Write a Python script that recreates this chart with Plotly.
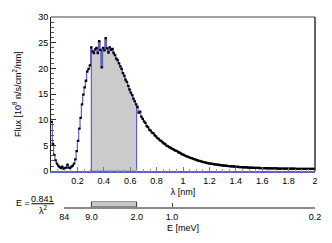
import numpy as np
import plotly.graph_objects as go

# ---- data ----
bin_width = 0.01
flux = [
    9.6, 5.3, 3.2, 2.1, 1.5, 1.1, 0.8, 0.6, 0.9, 0.5,
    0.6, 0.7, 1.3, 0.7, 0.6, 0.9, 1.1, 1.5, 2.3, 3.9,
    5.9, 8.3, 10.4, 13.0, 14.9, 16.3, 17.6, 19.4, 19.9, 20.6,
    24.1, 23.3, 23.0, 23.7, 24.0, 23.0, 25.3, 23.6, 20.2, 24.0,
    23.5, 25.9, 23.9, 23.1, 24.1, 23.6, 23.8, 23.0, 22.6, 21.9,
    21.6, 21.0, 20.4, 19.9, 19.1, 18.6, 17.8, 17.4, 16.6, 15.9,
    15.3, 14.8, 14.1, 13.6, 13.0, 12.5, 11.4, 11.6, 10.6, 10.2,
    9.7, 9.4, 8.8, 8.6, 8.1, 7.9, 7.5, 7.4, 7.0, 6.8,
    6.5, 6.3, 6.0, 5.9, 5.6, 5.4, 5.3, 5.0, 4.9, 4.7,
    4.6, 4.4, 4.3, 4.1, 4.0, 3.9, 3.7, 3.6, 3.45, 3.3,
    3.2, 3.05, 2.95, 2.85, 2.75, 2.6, 2.55, 2.45, 2.35, 2.25,
    2.15, 2.05, 2.0, 1.92, 1.86, 1.78, 1.72, 1.68, 1.6, 1.55,
    1.5, 1.46, 1.42, 1.36, 1.33, 1.29, 1.27, 1.22, 1.2, 1.16,
    1.12, 1.1, 1.07, 1.03, 1.01, 0.98, 0.96, 0.93, 0.92, 0.89,
    0.87, 0.85, 0.83, 0.82, 0.8, 0.78, 0.77, 0.75, 0.74, 0.72,
    0.71, 0.7, 0.68, 0.67, 0.66, 0.65, 0.64, 0.63, 0.62, 0.61,
    0.6, 0.6, 0.59, 0.58, 0.58, 0.57, 0.56, 0.56, 0.55, 0.55,
    0.54, 0.54, 0.53, 0.53, 0.52, 0.52, 0.52, 0.51, 0.51, 0.5,
    0.5, 0.5, 0.49, 0.49, 0.49, 0.48, 0.48, 0.48, 0.47, 0.47,
    0.47, 0.47, 0.46, 0.46, 0.46, 0.46, 0.45, 0.45, 0.45, 0.45,
]
lam = [round((i + 0.5) * bin_width, 4) for i in range(len(flux))]

x_tick_vals = [0.2, 0.4, 0.6, 0.8, 1.0, 1.2, 1.4, 1.6, 1.8, 2.0]
x_tick_text = ["0.2", "0.4", "0.6", "0.8", "1", "1.2", "1.4", "1.6", "1.8", "2"]
y_tick_vals = [0, 5, 10, 15, 20, 25, 30]

E_const = 0.841
E_tick_values = [84.1, 9.0, 2.0, 1.0, 0.2103]
E_tick_text = ["84", "9.0", "2.0", "1.0", "0.2"]
E_band = [9.0, 2.0]

# ---- derived ----
lam_ticks = [float(np.sqrt(E_const / e)) for e in E_tick_values]
lam_lo = float(np.sqrt(E_const / E_band[0]))
lam_hi = float(np.sqrt(E_const / E_band[1]))

edges = [round(i * bin_width, 4) for i in range(len(flux) + 1)]
def val_at(x):
    i = min(int(x / bin_width), len(flux) - 1)
    return flux[i]
px, py = [lam_lo, lam_lo], [0, val_at(lam_lo)]
for i in range(len(flux)):
    e = edges[i]
    if lam_lo < e < lam_hi:
        px += [e, e]
        py += [flux[i - 1], flux[i]]
px += [lam_hi, lam_hi, lam_lo]
py += [val_at(lam_hi), 0, 0]

BLUE = "#5f5fc4"
FONT = "Liberation Sans, Arial, sans-serif"

fig = go.Figure()
fig.add_trace(go.Scatter(x=px, y=py, mode="lines", fill="toself",
                         fillcolor="#cbcbcb", line=dict(color=BLUE, width=1.2),
                         hoverinfo="skip", showlegend=False))
fig.add_trace(go.Scatter(x=lam, y=flux, mode="lines", line=dict(color=BLUE, width=1.2, shape="hvh"),
                         showlegend=False))
fig.add_trace(go.Scatter(x=lam, y=flux, mode="markers",
                         marker=dict(symbol="square", size=2.3, color="black", line=dict(width=0)),
                         showlegend=False))
fig.add_trace(go.Scatter(x=[lam_lo, lam_lo, lam_hi, lam_hi, lam_lo], y=[0, 1, 1, 0, 0],
                         xaxis="x2", yaxis="y2", mode="lines", fill="toself",
                         fillcolor="#c8c8c8", line=dict(color="#333333", width=1),
                         showlegend=False, hoverinfo="skip"))

fig.update_layout(
    width=324, height=235,
    margin=dict(l=43, r=17, t=4, b=20),
    paper_bgcolor="white", plot_bgcolor="white",
    font=dict(family=FONT, size=9, color="black"),
    xaxis=dict(range=[0, 2], domain=[0, 1], anchor="y",
               tickmode="array", tickvals=x_tick_vals, ticktext=x_tick_text,
               ticks="inside", ticklen=5, tickcolor="#777777", tickwidth=1,
               minor=dict(dtick=0.05, ticks="inside", ticklen=3, tickcolor="#999999"),
               showline=True, linecolor=BLUE, linewidth=1.5,
               showgrid=False, zeroline=False, ticklabeloverflow="allow",
               title=dict(text="λ [nm]", font=dict(size=9), standoff=4),
               tickfont=dict(size=9)),
    yaxis=dict(range=[0, 30], domain=[0.2512, 1], anchor="x",
               tickmode="array", tickvals=y_tick_vals,
               ticks="inside", ticklen=5, tickcolor="#333333", tickwidth=1,
               minor=dict(dtick=1, ticks="inside", ticklen=3, tickcolor="#555555"),
               showline=True, linecolor="#222222", linewidth=1,
               showgrid=False, zeroline=False, ticklabeloverflow="allow",
               title=dict(text="Flux [10<sup>8</sup> n/s/cm<sup>2</sup>/nm]", font=dict(size=9), standoff=15),
               tickfont=dict(size=9)),
    xaxis2=dict(range=[0.0995, 2.0], domain=[0.05, 1], anchor="y2",
                tickmode="array", tickvals=lam_ticks, ticktext=E_tick_text,
                ticks="inside", ticklen=4, tickcolor="#444444",
                showline=True, linecolor="#8a8a8a", linewidth=2,
                showgrid=False, zeroline=False, tickfont=dict(size=9),
                ticklabeloverflow="allow"),
    yaxis2=dict(range=[0, 1], domain=[0.0773, 0.104], anchor="x2", visible=False),
    shapes=[
        dict(type="line", xref="x domain", yref="y domain", x0=0, x1=1, y0=1, y1=1,
             line=dict(color="#a0a0a0", width=2)),
        dict(type="line", xref="x domain", yref="y domain", x0=1, x1=1, y0=0, y1=1,
             line=dict(color="#333333", width=1.5)),
        dict(type="line", xref="paper", yref="paper", x0=-0.074, x1=0.012, y0=0.0934, y1=0.0934,
             line=dict(color="black", width=1)),
    ],
    annotations=[
        dict(text="E =", xref="paper", yref="paper", x=-0.106, y=0.0962, showarrow=False,
             xanchor="center", yanchor="middle", font=dict(size=9)),
        dict(text="0.841", xref="paper", yref="paper", x=-0.031, y=0.115, showarrow=False,
             xanchor="center", yanchor="middle", font=dict(size=9)),
        dict(text="λ<sup>2</sup>", xref="paper", yref="paper", x=-0.030, y=0.063, showarrow=False,
             xanchor="center", yanchor="middle", font=dict(size=9)),
        dict(text="E [meV]", xref="paper", yref="paper", x=0.5, y=-0.024, showarrow=False,
             xanchor="center", yanchor="middle", font=dict(size=9)),
    ],
)

fig.write_html("out.html")
